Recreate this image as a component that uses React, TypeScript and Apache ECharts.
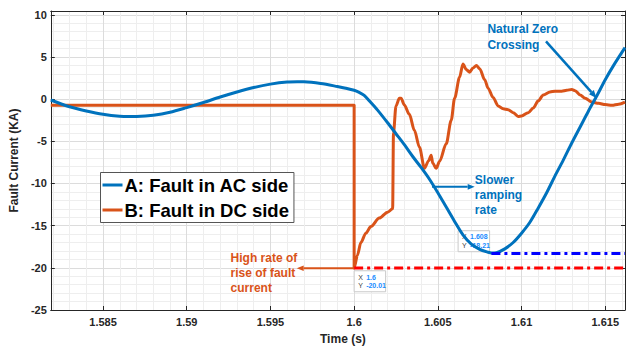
import React, { useEffect, useRef } from 'react';
import * as echarts from 'echarts';

// ---- Data ----
const timeA = [
  1.58188, 1.583, 1.584, 1.585, 1.586, 1.5866, 1.587, 1.588, 1.589, 1.59, 1.591, 1.592, 1.593, 1.594,
  1.595, 1.596, 1.5966, 1.597, 1.598, 1.599, 1.5995, 1.6, 1.6003, 1.6006, 1.601, 1.6014, 1.602,
  1.6025, 1.603, 1.6035, 1.604, 1.6045, 1.605, 1.6055, 1.606, 1.6065, 1.607, 1.6075, 1.608, 1.6082,
  1.6085, 1.609, 1.6095, 1.61, 1.6105, 1.611, 1.6115, 1.612, 1.6125, 1.613, 1.6135, 1.614, 1.6145,
  1.615, 1.6155, 1.61618,
];
const currentA = [
  -0.1, -0.9, -1.4, -1.8, -2.04, -2.07, -2.06, -1.9, -1.55, -1.0, -0.4, 0.25, 0.85, 1.38,
  1.78, 2.03, 2.06, 2.05, 1.85, 1.5, 1.3, 1.05, 0.8, 0.45, -0.4, -1.3, -2.8,
  -4.1, -5.4, -6.8, -8.1, -9.5, -11.1, -12.8, -14.5, -16.1, -17.2, -17.8, -18.15, -18.24,
  -18.2, -17.75, -17.0, -15.9, -14.6, -12.9, -11.1, -9.1, -7.2, -5.2, -3.3, -1.4, 0.4,
  2.3, 4.0, 6.1,
];
const timeB = [
  1.58188, 1.6, 1.6, 1.6002, 1.6004, 1.6007, 1.601, 1.6015, 1.602, 1.6023, 1.60235, 1.6025, 1.6027,
  1.6028, 1.603, 1.6033, 1.6036, 1.6039, 1.6042, 1.60445, 1.6046, 1.6047, 1.6049, 1.6051, 1.6055,
  1.6058, 1.606, 1.6063, 1.6065, 1.6067, 1.6069, 1.6071, 1.6073, 1.6075, 1.6078, 1.608, 1.6083,
  1.6086, 1.6089, 1.6092, 1.6095, 1.6098, 1.61, 1.6104, 1.6107, 1.611, 1.6113, 1.6117, 1.612,
  1.6124, 1.6127, 1.613, 1.6132, 1.6135, 1.6138, 1.6142, 1.6146, 1.615, 1.6154, 1.6158, 1.61618,
];
const currentB = [
  -0.73, -0.73, -20.01, -18.5, -17.0, -15.9, -15.1, -14.1, -13.4, -13.0, -4.0, -0.8, 0.1,
  0.12, -0.7, -1.8, -3.7, -5.7, -8.2, -7.3, -6.65, -7.6, -8.2, -7.4, -5.3,
  -2.5, 0.1, 2.6, 4.17, 3.5, 3.2, 3.7, 3.98, 3.6, 2.3, 1.3, 0.2,
  -0.8, -1.15, -1.25, -1.6, -2.05, -2.0, -1.6, -1.05, -0.2, 0.5, 0.85, 0.95,
  0.95, 1.05, 1.15, 1.0, 0.5, 0.1, -0.35, -0.5, -0.65, -0.73, -0.6, -0.35,
];
const peakLineB = [[1.6, -20.01], [1.61618, -20.01]];
const peakLineA = [[1.6082, -18.3], [1.61618, -18.3]];
const tipA = { x: '1.608', y: '-18.21' };
const tipB = { x: '1.6', y: '-20.01' };

const xTicks = [1.585, 1.59, 1.595, 1.6, 1.605, 1.61, 1.615];
const yTicks = [-25, -20, -15, -10, -5, 0, 5, 10];
const X_MIN = 1.58188;
const X_MAX = 1.61618;
const Y_MIN = -25;
const Y_MAX = 10.45;

const BLUE = '#0072BD';
const ORANGE = '#D95319';
const AXIS = '#262626';
const FONT = '"Liberation Sans", Arial, sans-serif';

const fmt = (ticks: number[]) => (v: number) =>
  ticks.some((t) => Math.abs(t - v) < 1e-7) ? String(+v.toFixed(4)) : '';

export default function App() {
  const ref = useRef<HTMLDivElement>(null);
  useEffect(() => {
    if (!ref.current) return;
    const chart = echarts.init(ref.current, undefined, { renderer: 'svg' });
    const baseX = {
      type: 'value' as const,
      min: X_MIN,
      max: X_MAX,
      splitNumber: 7,
    };
    const baseY = {
      type: 'value' as const,
      min: Y_MIN,
      max: Y_MAX,
      interval: 5,
    };
    chart.setOption({
      animation: false,
      backgroundColor: '#fff',
      grid: { left: 39.5, right: 1, top: 11, bottom: 33.3, containLabel: false },
      legend: {
        orient: 'vertical',
        left: 100.5,
        top: 172.5,
        data: ['A: Fault in AC side', 'B: Fault in DC side'],
        icon: 'rect',
        itemWidth: 20,
        itemHeight: 3,
        itemGap: 4,
        padding: [2, 5, 2, 2],
        borderColor: '#555',
        borderWidth: 1,
        backgroundColor: '#fff',
        textStyle: {
          fontFamily: FONT,
          fontSize: 18.5,
          fontWeight: 'bold',
          color: '#000',
          lineHeight: 21,
          padding: [0, 0, 0, -3],
        },
      },
      xAxis: [
        {
          ...baseX,
          name: 'Time (s)',
          nameLocation: 'middle',
          nameGap: 23,
          nameTextStyle: { fontFamily: FONT, fontSize: 12, fontWeight: 'bold', color: AXIS, padding: [0, 0, 0, 10] },
          axisLine: { show: true, onZero: false, lineStyle: { color: AXIS, width: 1 } },
          axisTick: { show: true, inside: true, length: 4, lineStyle: { color: AXIS } },
          axisLabel: { fontFamily: FONT, fontSize: 11, fontWeight: 'bold', color: AXIS, margin: 6, formatter: fmt(xTicks) },
          splitLine: { show: true, lineStyle: { color: '#dcdcdc', width: 1 } },
          minorTick: { show: false, splitNumber: 5 },
          minorSplitLine: { show: true, lineStyle: { color: '#eeeeee', width: 1 } },
        },
        {
          ...baseX,
          position: 'top',
          axisLine: { show: true, onZero: false, lineStyle: { color: AXIS, width: 1 } },
          axisTick: { show: true, inside: true, length: 4, lineStyle: { color: AXIS } },
          axisLabel: { show: false },
          splitLine: { show: false },
        },
      ],
      yAxis: [
        {
          ...baseY,
          name: 'Fault Current (KA)',
          nameLocation: 'middle',
          nameGap: 22,
          nameTextStyle: { fontFamily: FONT, fontSize: 12, fontWeight: 'bold', color: AXIS },
          axisLine: { show: true, onZero: false, lineStyle: { color: AXIS, width: 1 } },
          axisTick: { show: true, inside: true, length: 4, lineStyle: { color: AXIS } },
          axisLabel: { fontFamily: FONT, fontSize: 11, fontWeight: 'bold', color: AXIS, margin: 4, formatter: fmt(yTicks) },
          splitLine: { show: true, lineStyle: { color: '#dcdcdc', width: 1 } },
          minorTick: { show: false, splitNumber: 5 },
          minorSplitLine: { show: true, lineStyle: { color: '#eeeeee', width: 1 } },
        },
        {
          ...baseY,
          position: 'right',
          axisLine: { show: true, onZero: false, lineStyle: { color: AXIS, width: 1 } },
          axisTick: { show: true, inside: true, length: 4, lineStyle: { color: AXIS } },
          axisLabel: { show: false },
          splitLine: { show: false },
        },
      ],
      series: [
        {
          name: 'A: Fault in AC side',
          type: 'line',
          data: timeA.map((t, i) => [t, currentA[i]]),
          showSymbol: false,
          smooth: 0.3,
          lineStyle: { color: BLUE, width: 3 },
          itemStyle: { color: BLUE },
          z: 3,
        },
        {
          name: 'B: Fault in DC side',
          type: 'line',
          data: timeB.map((t, i) => [t, currentB[i]]),
          showSymbol: false,
          smooth: 0.3,
          smoothMonotone: 'x',
          lineStyle: { color: ORANGE, width: 3, join: 'round' },
          itemStyle: { color: ORANGE },
          z: 2,
        },
        {
          name: 'peakB',
          type: 'line',
          data: peakLineB,
          showSymbol: false,
          lineStyle: { color: '#ff0000', width: 3, type: [9, 4, 3, 4] },
          z: 4,
        },
        {
          name: 'peakA',
          type: 'line',
          data: peakLineA,
          showSymbol: false,
          lineStyle: { color: '#0000ff', width: 3, type: [9, 4, 3, 4] },
          z: 4,
        },
      ],
    });

    const px = (x: number, y: number) => chart.convertToPixel({ gridIndex: 0 }, [x, y]) as number[];
    const arrow = (from: number[], to: number[], color: string, width: number, head: number) => {
      const [x1, y1] = px(from[0], from[1]);
      const [x2, y2] = px(to[0], to[1]);
      const ang = Math.atan2(y2 - y1, x2 - x1);
      const bx = x2 - head * Math.cos(ang);
      const by = y2 - head * Math.sin(ang);
      const w = head * 0.4;
      return [
        { type: 'line', shape: { x1, y1, x2: bx, y2: by }, style: { stroke: color, lineWidth: width }, z: 50 },
        {
          type: 'polygon',
          shape: {
            points: [
              [x2, y2],
              [bx + w * Math.sin(ang), by - w * Math.cos(ang)],
              [bx - w * Math.sin(ang), by + w * Math.cos(ang)],
            ],
          },
          style: { fill: color },
          z: 50,
        },
      ];
    };
    const label = (x: number, y: number, text: string, color: string) => {
      const [lx, ly] = px(x, y);
      return {
        type: 'text',
        x: lx,
        y: ly,
        z: 50,
        style: {
          text,
          fill: color,
          font: `bold 12px ${FONT}`,
          lineHeight: 15.2,
          align: 'left',
          verticalAlign: 'middle',
        },
      };
    };
    const dataTip = (x: number, y: number, tip: { x: string; y: string }, w: number) => {
      const [bx, by] = px(x, y);
      return {
        type: 'group',
        x: bx,
        y: by,
        z: 60,
        children: [
          { type: 'rect', shape: { x: 0, y: 0, width: w, height: 21 }, style: { fill: '#ffffff', stroke: '#c9c9c9', lineWidth: 1 } },
          {
            type: 'text',
            x: 4,
            y: 10.5,
            style: {
              text: `{k|X} {v|${tip.x}}\n{k|Y} {v|${tip.y}}`,
              verticalAlign: 'middle',
              lineHeight: 8.5,
              rich: {
                k: { fill: '#404040', font: `7px ${FONT}` },
                v: { fill: '#1a8cff', font: `bold 7px ${FONT}` },
              },
            },
          },
        ],
      };
    };

    chart.setOption({
      graphic: [
        ...arrow([1.61146, 6.84], [1.61449, 0.12], BLUE, 2.5, 8),
        ...arrow([1.60465, -10.4], [1.6072, -10.4], BLUE, 2, 7),
        ...arrow([1.6, -20.05], [1.59657, -20.05], ORANGE, 2, 7),
        label(1.60796, 7.36, 'Natural Zero\nCrossing', BLUE),
        label(1.60721, -11.4, 'Slower\nramping\nrate', BLUE),
        label(1.59262, -20.6, 'High rate of\nrise of fault\ncurrent', ORANGE),
        dataTip(1.60621, -15.6, tipA, 31.5),
        dataTip(1.6, -20.35, tipB, 31.5),
      ],
    });

    return () => chart.dispose();
  }, []);
  return <div ref={ref} style={{ width: 628, height: 350, position: 'absolute', left: 0, top: 0 }} />;
}
